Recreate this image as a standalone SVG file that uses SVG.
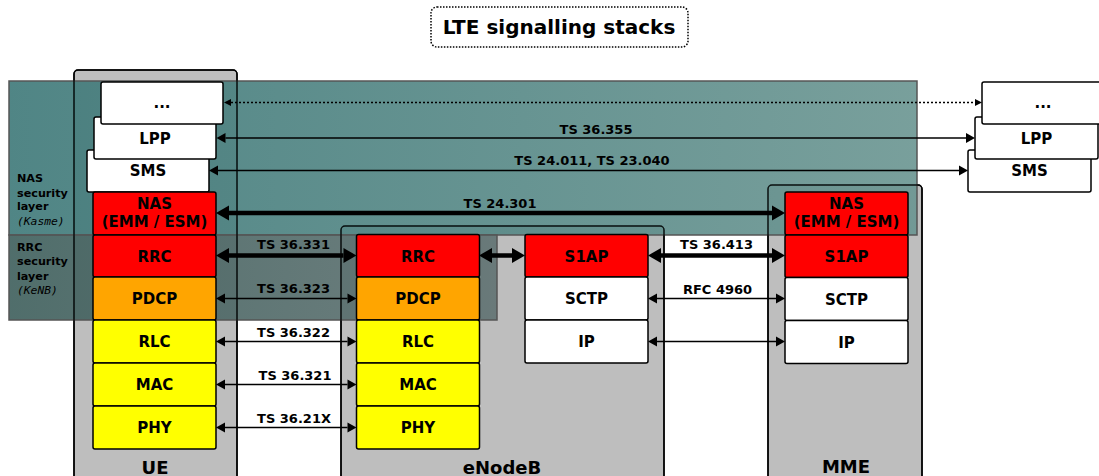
<svg xmlns="http://www.w3.org/2000/svg" width="1099" height="476" viewBox="0 0 1099 476">
<style>
.cont{fill:#bebebe;stroke:#000;stroke-width:1.5}
.outl{fill:none;stroke:#000;stroke-width:1.5;stroke-opacity:0.85}
.lay{stroke:#000;stroke-width:1.5}
.red{fill:#ff0000}.org{fill:#ffa500}.yel{fill:#ffff00}.wht{fill:#ffffff}
.lt{font-family:"DejaVu Sans",sans-serif;font-weight:bold;font-size:15px;text-anchor:middle;fill:#000}
.ct{font-family:"DejaVu Sans",sans-serif;font-weight:bold;font-size:18px;text-anchor:middle;fill:#000}
.cl{font-family:"DejaVu Sans",sans-serif;font-weight:bold;font-size:13px;text-anchor:middle;fill:#000}
.sl{font-family:"DejaVu Sans",sans-serif;font-weight:bold;font-size:11.2px;fill:#000}
.sk{font-family:"DejaVu Sans Mono",monospace;font-style:oblique;font-size:11.3px;fill:#000}
.thin{stroke:#000;stroke-width:1.5;fill:none;marker-start:url(#ah);marker-end:url(#ah)}
.thick{stroke:#000;stroke-width:4.5;fill:none;marker-start:url(#ahb);marker-end:url(#ahb)}
.dot{stroke:#000;stroke-width:1.5;fill:none;stroke-dasharray:2 2;marker-start:url(#ahs);marker-end:url(#ahs)}
</style>
<defs>
<marker id="ah" markerUnits="userSpaceOnUse" markerWidth="10" markerHeight="10" refX="0" refY="5" orient="auto-start-reverse" overflow="visible"><path d="M0,0 L9,5 L0,10 z" fill="#000"/></marker>
<marker id="ahb" markerUnits="userSpaceOnUse" markerWidth="14" markerHeight="15" refX="0" refY="7.5" orient="auto-start-reverse" overflow="visible"><path d="M0,0 L13,7.5 L0,15 z" fill="#000"/></marker>
<marker id="ahs" markerUnits="userSpaceOnUse" markerWidth="8" markerHeight="8" refX="0" refY="3.5" orient="auto-start-reverse" overflow="visible"><path d="M0,0 L7,3.5 L0,7 z" fill="#000"/></marker>
<linearGradient id="gNas" x1="0" y1="0" x2="1" y2="0"><stop offset="0" stop-color="#3d7878"/><stop offset="1" stop-color="#6a9591"/></linearGradient>
<linearGradient id="gRrc" x1="0" y1="0" x2="1" y2="0"><stop offset="0" stop-color="#3d5e5b"/><stop offset="1" stop-color="#607272"/></linearGradient>
</defs>
<rect width="1099" height="476" fill="#fff"/>
<g id="title">
<rect x="431" y="7" width="257" height="40" rx="6" fill="#fff" stroke="#000" stroke-width="1.5" stroke-dasharray="1.5 1.5"/>
<text x="559" y="33.5" font-family="DejaVu Sans, sans-serif" font-weight="bold" font-size="20" text-anchor="middle">LTE signalling stacks</text>
</g>
<g id="ue-box"><rect class="cont" x="74" y="70" width="163" height="420" rx="4"/><text class="ct" x="155" y="474">UE</text></g>
<g id="enb-box"><rect class="cont" x="341" y="226" width="323" height="264" rx="4"/><text class="ct" x="502" y="474">eNodeB</text></g>
<g id="mme-box"><rect class="cont" x="768" y="185" width="154" height="305" rx="4"/><text class="ct" x="846" y="473">MME</text></g>
<g id="nas-security-layer">
<rect x="9" y="81" width="908" height="154" fill="url(#gNas)" fill-opacity="0.9" stroke="#555" stroke-width="1.5"/>
<text class="sl" x="17" y="182">NAS</text><text class="sl" x="17" y="196.5">security</text><text class="sl" x="17" y="210">layer</text><text class="sk" x="17" y="224.5">(Kasme)</text>
</g>
<g id="rrc-security-layer">
<rect x="9" y="235" width="488" height="85" fill="url(#gRrc)" fill-opacity="0.9" stroke="#555" stroke-width="1.5"/>
<text class="sl" x="17" y="251">RRC</text><text class="sl" x="17" y="265">security</text><text class="sl" x="17" y="279.5">layer</text><text class="sk" x="17" y="294">(KeNB)</text>
</g>
<g id="box-outlines">
<rect class="outl" x="74" y="70" width="163" height="420" rx="4"/>
<rect class="outl" x="341" y="226" width="323" height="264" rx="4"/>
<rect class="outl" x="768" y="185" width="154" height="305" rx="4"/>
</g>
<g id="ue-sms"><rect class="lay wht" x="87" y="150" width="122" height="42" rx="2"/><text class="lt" x="148" y="176">SMS</text></g>
<g id="ue-lpp"><rect class="lay wht" x="94" y="117" width="122" height="42" rx="2"/><text class="lt" x="155" y="143.5">LPP</text></g>
<g id="ue-other"><rect class="lay wht" x="101" y="82" width="122" height="42" rx="2"/><text class="lt" x="162" y="108">...</text></g>
<g id="ue-nas"><rect class="lay red" x="93" y="192" width="123" height="43" rx="2"/><text class="lt" x="154.5" y="208.5">NAS</text><text class="lt" x="154.5" y="226.5">(EMM / ESM)</text></g>
<g id="ue-rrc"><rect class="lay red" x="93" y="235" width="123" height="42" rx="2"/><text class="lt" x="154.5" y="261.5">RRC</text></g>
<g id="ue-pdcp"><rect class="lay org" x="93" y="277" width="123" height="43" rx="2"/><text class="lt" x="154.5" y="304">PDCP</text></g>
<g id="ue-rlc"><rect class="lay yel" x="93" y="320" width="123" height="43" rx="2"/><text class="lt" x="154.5" y="347">RLC</text></g>
<g id="ue-mac"><rect class="lay yel" x="93" y="363" width="123" height="43" rx="2"/><text class="lt" x="154.5" y="390">MAC</text></g>
<g id="ue-phy"><rect class="lay yel" x="93" y="406" width="123" height="43" rx="2"/><text class="lt" x="154.5" y="433">PHY</text></g>
<g id="enb-rrc"><rect class="lay red" x="356.5" y="234.5" width="123" height="42.5" rx="2"/><text class="lt" x="418" y="261.5">RRC</text></g>
<g id="enb-pdcp"><rect class="lay org" x="356.5" y="277" width="123" height="43" rx="2"/><text class="lt" x="418" y="304">PDCP</text></g>
<g id="enb-rlc"><rect class="lay yel" x="356.5" y="320" width="123" height="43" rx="2"/><text class="lt" x="418" y="347">RLC</text></g>
<g id="enb-mac"><rect class="lay yel" x="356.5" y="363" width="123" height="43" rx="2"/><text class="lt" x="418" y="390">MAC</text></g>
<g id="enb-phy"><rect class="lay yel" x="356.5" y="406" width="123" height="43" rx="2"/><text class="lt" x="418" y="433">PHY</text></g>
<g id="enb-s1ap"><rect class="lay red" x="525" y="234.5" width="123" height="42.5" rx="2"/><text class="lt" x="586.5" y="261.5">S1AP</text></g>
<g id="enb-sctp"><rect class="lay wht" x="525" y="277" width="123" height="43" rx="2"/><text class="lt" x="586.5" y="304">SCTP</text></g>
<g id="enb-ip"><rect class="lay wht" x="525" y="320" width="123" height="43" rx="2"/><text class="lt" x="586.5" y="347">IP</text></g>
<g id="mme-nas"><rect class="lay red" x="785" y="192" width="123" height="43" rx="2"/><text class="lt" x="846.5" y="208.5">NAS</text><text class="lt" x="846.5" y="226.5">(EMM / ESM)</text></g>
<g id="mme-s1ap"><rect class="lay red" x="785" y="235" width="123" height="42.5" rx="2"/><text class="lt" x="846.5" y="262">S1AP</text></g>
<g id="mme-sctp"><rect class="lay wht" x="785" y="277.5" width="123" height="43" rx="2"/><text class="lt" x="846.5" y="304.5">SCTP</text></g>
<g id="mme-ip"><rect class="lay wht" x="785" y="320.5" width="123" height="43" rx="2"/><text class="lt" x="846.5" y="347.5">IP</text></g>
<g id="peer-sms"><rect class="lay wht" x="968" y="150" width="123" height="42" rx="2"/><text class="lt" x="1029.5" y="176">SMS</text></g>
<g id="peer-lpp"><rect class="lay wht" x="975" y="117" width="123" height="42" rx="2"/><text class="lt" x="1036.5" y="143.5">LPP</text></g>
<g id="peer-other"><rect class="lay wht" x="982" y="82" width="125" height="42" rx="2"/><text class="lt" x="1043" y="108">...</text></g>
<g id="connectors">
<line class="dot" x1="231" y1="102.5" x2="975" y2="102.5"/>
<line class="thin" x1="225.5" y1="138" x2="966" y2="138"/>
<line class="thin" x1="218" y1="170.5" x2="959" y2="170.5"/>
<line class="thick" x1="229" y1="213" x2="772" y2="213"/>
<line class="thick" x1="229" y1="255.5" x2="343.5" y2="255.5"/>
<line class="thin" x1="225" y1="298.5" x2="347.5" y2="298.5"/>
<line class="thin" x1="225" y1="341.5" x2="347.5" y2="341.5"/>
<line class="thin" x1="225" y1="384.5" x2="347.5" y2="384.5"/>
<line class="thin" x1="225" y1="427.5" x2="347.5" y2="427.5"/>
<line class="thick" x1="492" y1="255.5" x2="512" y2="255.5"/>
<line class="thick" x1="661" y1="255.5" x2="772" y2="255.5"/>
<line class="thin" x1="657" y1="298.5" x2="776" y2="298.5"/>
<line class="thin" x1="657" y1="341.5" x2="776" y2="341.5"/>
<text class="cl" x="596" y="134">TS 36.355</text>
<text class="cl" x="592" y="165">TS 24.011, TS 23.040</text>
<text class="cl" x="500" y="208">TS 24.301</text>
<text class="cl" x="293.5" y="249">TS 36.331</text>
<text class="cl" x="293.5" y="292.5">TS 36.323</text>
<text class="cl" x="293.5" y="337">TS 36.322</text>
<text class="cl" x="295" y="379.5">TS 36.321</text>
<text class="cl" x="294" y="422.5">TS 36.21X</text>
<text class="cl" x="716.5" y="248.5">TS 36.413</text>
<text class="cl" x="717.5" y="293.5">RFC 4960</text>
</g>
</svg>
